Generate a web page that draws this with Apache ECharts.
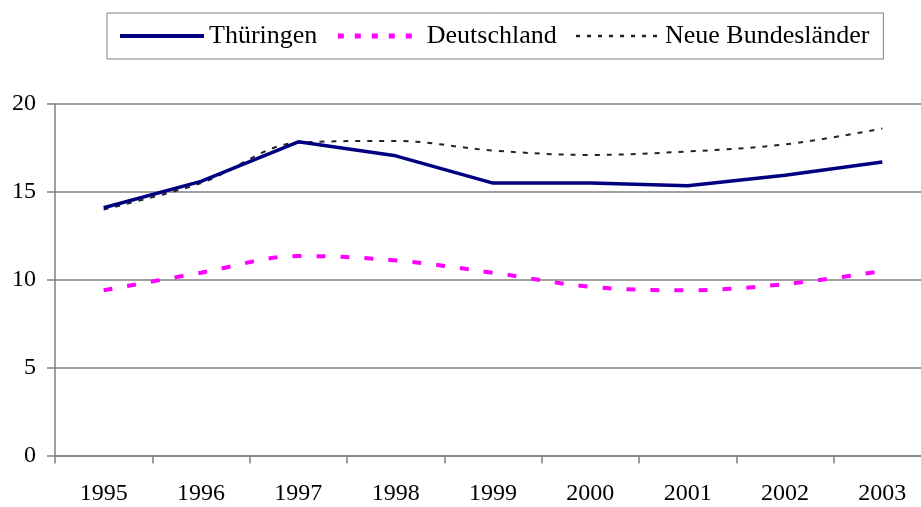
<!DOCTYPE html>
<html><head><meta charset="utf-8">
<script src="https://cdn.jsdelivr.net/npm/echarts@6/dist/echarts.min.js"></script>
<style>html,body{margin:0;padding:0;background:#fff}#c{width:921px;height:507px}</style>
</head><body><div id="c"></div>
<script>
const years = ['1995','1996','1997','1998','1999','2000','2001','2002','2003'];
const thueringen = [14.1, 15.6, 17.85, 17.05, 15.5, 15.5, 15.35, 15.95, 16.7];
const deutschland = [9.4, 10.4, 11.35, 11.1, 10.4, 9.6, 9.4, 9.75, 10.5];
const neueBL = [14.0, 15.5, 17.8, 17.9, 17.35, 17.1, 17.3, 17.7, 18.6];
const yTicks = [0, 5, 10, 15, 20];

const FONT = '"Liberation Serif", "Times New Roman", serif';
const chart = echarts.init(document.getElementById('c'), null, {renderer:'canvas'});
chart.setOption({
  animation: false,
  backgroundColor: '#fff',
  textStyle: {fontFamily: FONT},
  legend: {
    left: 107, top: 13,
    padding: [9, 14, 9, 11],
    borderColor: '#808080', borderWidth: 1,
    itemWidth: 84, itemHeight: 20, itemGap: 18,
    itemStyle: {opacity: 0},
    textStyle: {fontFamily: FONT, fontSize: 26, lineHeight: 28, color: '#000'},
    data: [
      {name: 'Thüringen', lineStyle: {width: 4, color: '#000080'}},
      {name: 'Deutschland', lineStyle: {width: 5, color: '#ff00ff', type: [6, 11]}},
      {name: 'Neue Bundesländer', lineStyle: {width: 2.5, color: '#222222', type: [4, 7]}}
    ]
  },
  grid: {left: 55, width: 876, top: 104, bottom: 51.5, containLabel: false, outerBoundsMode: 'none'},
  xAxis: {
    type: 'category', data: years, boundaryGap: true,
    axisLine: {lineStyle: {color: '#808080', width: 1.5}},
    axisTick: {show: true, length: 8, lineStyle: {color: '#808080', width: 1.5}},
    axisLabel: {fontFamily: FONT, fontSize: 24, color: '#000', margin: 26}
  },
  yAxis: {
    type: 'value', min: 0, max: 20, interval: 5,
    axisLine: {show: true, lineStyle: {color: '#808080', width: 1.5}},
    axisTick: {show: true, length: 8, lineStyle: {color: '#808080', width: 1.5}},
    axisLabel: {fontFamily: FONT, fontSize: 24, color: '#000', margin: 19,
      formatter: v => yTicks.includes(v) ? String(v) : ''},
    splitLine: {show: true, lineStyle: {color: '#808080', width: 1.5}}
  },
  series: [
    {name: 'Thüringen', type: 'line', data: thueringen, symbol: 'none', smooth: false, z: 5,
     lineStyle: {color: '#000080', width: 3.5}, itemStyle: {color: '#000080'}},
    {name: 'Deutschland', type: 'line', data: deutschland, symbol: 'none', smooth: 0.35, z: 3,
     lineStyle: {color: '#ff00ff', width: 4, type: [9, 15]}, itemStyle: {color: '#ff00ff'}},
    {name: 'Neue Bundesländer', type: 'line', data: neueBL, symbol: 'none', smooth: 0.35, z: 2,
     lineStyle: {color: '#222222', width: 2, type: [5, 7]}, itemStyle: {color: '#222222'}}
  ]
});
</script></body></html>
